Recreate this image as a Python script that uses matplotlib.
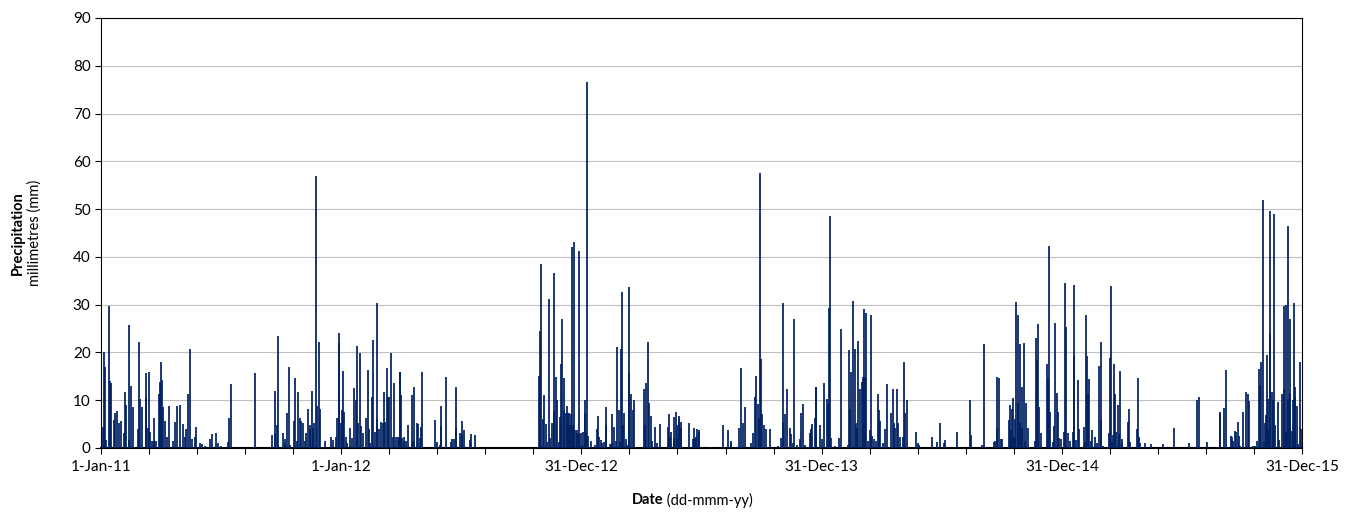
import numpy as np
import pandas as pd
import matplotlib
matplotlib.use("Agg")
import matplotlib.pyplot as plt
from matplotlib.ticker import MultipleLocator

# daily rainfall, (days since 1-Jan-2011, mm) -- days with no entry are dry
rain_2011 = [(3, 4.3), (5, 20.0), (6, 17.0), (8, 1.7), (12, 29.7), (14, 14.0), (15, 13.7), (20, 5.9),
             (22, 7.3), (25, 7.7), (28, 5.3), (30, 5.7), (35, 3.2), (36, 11.8), (38, 9.0), (42, 1.7),
             (43, 25.7), (45, 13.0), (48, 8.5), (56, 3.9), (58, 22.2), (60, 10.2), (63, 8.5), (68, 10.4),
             (69, 15.6), (71, 4.1), (73, 16.0), (74, 3.4), (77, 1.5), (80, 6.2), (81, 1.5), (84, 1.5),
             (88, 11.4), (90, 13.9), (91, 17.9), (92, 14.2), (95, 8.5), (98, 5.7), (101, 2.4), (103, 8.7),
             (109, 1.5), (113, 5.5), (115, 8.8), (120, 9.0), (124, 5.0), (127, 2.2), (129, 4.0), (132, 11.2),
             (135, 20.7), (138, 1.8), (143, 2.4), (145, 4.3), (150, 1.0), (153, 0.8), (158, 0.4), (166, 1.8),
             (169, 2.9), (175, 3.2), (178, 1.1), (183, 0.4), (193, 1.2), (195, 6.2), (197, 13.3), (234, 15.6),
             (260, 2.7), (264, 2.9), (265, 12.0), (268, 4.8), (269, 23.4), (276, 3.2), (279, 1.8), (280, 1.0),
             (283, 7.3), (285, 17.0), (287, 0.6), (294, 5.7), (295, 14.6), (298, 1.5), (300, 11.8), (302, 6.2),
             (304, 5.7), (307, 5.3), (310, 1.5), (312, 3.1), (315, 8.2), (317, 4.8), (318, 3.9), (320, 12.0),
             (322, 4.1), (324, 5.3), (327, 57.0), (328, 8.8), (331, 22.2), (333, 8.1), (341, 1.5), (349, 2.4),
             (352, 1.7), (357, 2.2), (359, 6.2), (361, 24.0), (362, 21.9), (364, 5.3)]

rain_2012 = [(366, 8.0), (368, 16.1), (370, 7.6), (372, 2.4), (374, 1.1), (379, 4.1), (381, 2.0), (385, 12.5),
             (387, 10.0), (389, 21.4), (391, 5.2), (394, 19.8), (395, 4.5), (398, 3.2), (403, 6.2), (405, 16.3),
             (407, 3.9), (409, 1.1), (412, 10.7), (414, 22.5), (416, 3.4), (419, 6.0), (420, 30.3), (422, 3.9),
             (425, 5.5), (428, 5.3), (430, 11.8), (432, 5.5), (434, 16.7), (436, 10.7), (438, 10.7), (440, 19.8),
             (443, 2.4), (445, 13.5), (449, 2.4), (451, 2.4), (453, 2.4), (454, 15.8), (455, 16.0), (456, 11.1),
             (458, 2.0), (460, 1.5), (461, 2.2), (463, 1.5), (467, 4.8), (472, 11.1), (473, 1.5), (475, 12.8),
             (476, 1.5), (480, 5.2), (481, 5.0), (484, 2.0), (486, 4.3), (488, 15.8), (507, 5.9), (510, 1.2),
             (515, 0.6), (516, 8.8), (517, 4.5), (524, 14.8), (532, 1.2), (534, 1.9), (536, 1.9), (539, 12.8),
             (540, 4.1), (545, 3.1), (548, 2.9), (549, 5.7), (551, 3.8), (560, 1.7), (562, 2.9), (568, 2.7),
             (666, 15.1), (667, 24.4), (669, 38.5), (671, 6.0), (673, 11.1), (676, 5.0), (678, 1.3), (681, 31.1),
             (683, 2.0), (686, 5.3), (688, 7.7), (689, 36.7), (691, 14.8), (693, 10.0), (696, 1.3), (698, 6.4),
             (699, 17.6), (701, 26.9), (703, 14.6), (704, 8.0), (706, 7.4), (708, 8.8), (709, 7.3), (711, 7.4),
             (713, 4.8), (714, 7.1), (716, 42.1), (717, 4.8), (719, 43.2), (720, 3.8), (723, 3.1), (724, 3.8),
             (726, 41.2), (727, 2.9), (729, 3.1)]

rain_2013 = [(731, 0.6), (733, 3.4), (735, 7.4), (736, 10.0), (737, 3.2), (739, 76.5), (740, 2.5), (745, 1.5),
             (751, 0.6), (754, 3.9), (755, 6.7), (757, 2.4), (760, 1.7), (761, 1.1), (765, 1.2), (767, 8.5),
             (768, 4.8), (773, 0.8), (776, 7.1), (777, 1.0), (780, 4.3), (782, 1.5), (784, 21.2), (787, 8.0),
             (788, 1.3), (790, 20.8), (791, 32.7), (793, 4.8), (795, 7.4), (797, 1.8), (800, 0.6), (802, 33.6),
             (803, 15.6), (805, 11.3), (808, 8.0), (810, 10.0), (812, 0.3), (825, 12.3), (826, 4.8), (828, 13.5),
             (831, 22.2), (833, 9.5), (836, 6.7), (838, 1.5), (842, 4.3), (845, 1.0), (849, 5.0), (862, 4.3),
             (863, 7.1), (865, 2.4), (866, 3.4), (870, 2.0), (871, 6.4), (873, 7.6), (875, 1.8), (876, 4.8),
             (878, 6.7), (879, 6.0), (881, 5.5), (882, 4.1), (893, 5.3), (899, 1.8), (901, 4.1), (902, 1.8),
             (904, 2.2), (906, 3.9), (908, 3.4), (909, 3.8), (925, 0.3), (945, 4.8), (953, 3.8), (957, 1.5),
             (958, 1.0), (965, 0.3), (969, 4.1), (972, 16.7), (976, 5.2), (978, 8.5), (988, 1.1), (990, 3.1),
             (994, 10.7), (996, 15.1), (998, 9.2), (1000, 6.2), (1002, 57.5), (1003, 18.6), (1005, 7.1),
             (1007, 4.8), (1011, 3.9), (1016, 3.9), (1029, 0.4), (1034, 2.0), (1036, 5.3), (1037, 30.3),
             (1040, 7.1), (1042, 12.3), (1047, 4.1), (1049, 2.9), (1051, 1.0), (1053, 26.9), (1058, 0.6),
             (1062, 1.8), (1064, 7.4), (1066, 9.2), (1070, 0.6), (1074, 0.3), (1077, 3.2), (1079, 3.9),
             (1080, 5.0), (1085, 6.2), (1086, 12.7), (1087, 12.7), (1092, 4.8)]

rain_2014 = [(1096, 1.8), (1098, 13.5), (1103, 10.2), (1105, 9.2), (1106, 29.2), (1107, 48.5), (1109, 2.0),
             (1115, 0.4), (1122, 2.0), (1124, 24.8), (1135, 0.6), (1136, 20.5), (1138, 8.1), (1140, 16.0),
             (1143, 30.8), (1145, 20.7), (1147, 5.2), (1149, 4.1), (1151, 22.4), (1153, 12.3), (1156, 13.9),
             (1158, 14.9), (1160, 29.0), (1161, 14.9), (1163, 28.3), (1166, 1.5), (1168, 3.8), (1170, 27.8),
             (1172, 2.5), (1175, 1.8), (1177, 1.5), (1180, 11.3), (1182, 8.0), (1184, 5.7), (1189, 1.1),
             (1191, 3.9), (1194, 13.4), (1201, 7.3), (1203, 12.4), (1205, 5.2), (1207, 4.1), (1209, 12.4),
             (1211, 5.3), (1214, 2.2), (1218, 2.4), (1220, 17.9), (1221, 7.4), (1224, 10.0), (1235, 0.3),
             (1239, 3.3), (1241, 1.1), (1243, 0.6), (1263, 2.4), (1270, 1.3), (1275, 5.2), (1281, 1.0),
             (1283, 1.7), (1301, 3.4), (1320, 10.0), (1322, 2.7), (1339, 0.6), (1341, 21.8), (1357, 1.2),
             (1359, 1.5), (1361, 14.8), (1362, 4.1), (1364, 14.6), (1367, 1.8), (1369, 1.8), (1380, 5.9),
             (1381, 9.0), (1383, 3.8), (1384, 8.1), (1386, 10.4), (1388, 2.2), (1389, 6.0), (1391, 30.6),
             (1393, 27.8), (1394, 9.5), (1396, 5.2), (1397, 21.7), (1399, 12.7), (1400, 4.1), (1402, 21.9),
             (1404, 1.5), (1405, 9.5), (1409, 4.1), (1419, 1.5), (1421, 23.0), (1423, 18.4), (1424, 25.9),
             (1426, 8.5), (1428, 3.2), (1437, 17.6), (1439, 14.6), (1440, 42.3), (1442, 7.5), (1446, 1.3),
             (1448, 4.5), (1450, 26.2), (1452, 11.6), (1454, 7.6), (1456, 2.0), (1458, 1.8)]

rain_2015 = [(1463, 3.4), (1465, 34.6), (1466, 25.3), (1470, 3.1), (1472, 1.5), (1477, 3.4), (1478, 19.3),
             (1479, 34.1), (1482, 1.7), (1484, 14.2), (1486, 3.9), (1494, 4.3), (1495, 1.3), (1497, 27.8),
             (1498, 19.3), (1500, 11.4), (1502, 14.4), (1504, 1.5), (1506, 3.8), (1511, 2.4), (1513, 1.0),
             (1517, 17.2), (1519, 22.1), (1520, 5.9), (1523, 0.4), (1531, 3.1), (1533, 18.9), (1534, 33.9),
             (1536, 1.3), (1537, 2.7), (1539, 17.6), (1541, 11.4), (1543, 3.3), (1545, 9.0), (1547, 2.9),
             (1549, 16.1), (1551, 1.0), (1552, 1.9), (1560, 5.4), (1562, 8.2), (1563, 1.2), (1574, 3.9),
             (1575, 14.7), (1577, 2.2), (1579, 1.0), (1586, 1.1), (1595, 0.8), (1613, 0.8), (1630, 4.1),
             (1653, 1.1), (1665, 10.0), (1668, 10.7), (1680, 1.3), (1700, 7.1), (1701, 7.6), (1706, 8.4),
             (1709, 16.3), (1717, 2.5), (1719, 2.4), (1720, 1.5), (1723, 3.6), (1725, 3.4), (1727, 5.5),
             (1729, 2.6), (1731, 0.4), (1736, 7.6), (1740, 11.7), (1743, 11.3), (1745, 9.8), (1751, 0.4),
             (1754, 0.4), (1757, 1.5), (1759, 16.5), (1761, 13.1), (1763, 17.9), (1765, 52.0), (1767, 1.2),
             (1769, 5.2), (1770, 6.9), (1771, 19.4), (1773, 3.8), (1774, 10.2), (1776, 49.5), (1777, 23.8),
             (1779, 11.8), (1781, 10.0), (1782, 49.0), (1784, 4.8), (1788, 9.7), (1790, 1.7), (1795, 11.4),
             (1797, 12.4), (1798, 29.7), (1800, 3.4), (1801, 29.9), (1803, 46.5), (1804, 10.3), (1806, 26.9),
             (1807, 11.6), (1809, 3.5), (1811, 10.0), (1812, 30.4), (1814, 10.6), (1815, 12.8), (1817, 8.7),
             (1819, 0.8), (1822, 18.1), (1823, 3.9)]

start_date = pd.Timestamp("2011-01-01")
tick_days = [0, 365, 730, 1095, 1460, 1825]

plt.rcParams["font.family"] = ["Lato", "DejaVu Sans"]

all_rain = rain_2011 + rain_2012 + rain_2013 + rain_2014 + rain_2015
days = np.array([d for d, _ in all_rain])
mm = np.array([v for _, v in all_rain])

fig = plt.figure(figsize=(13.59, 5.17), dpi=100)
ax = fig.add_axes([0.0743, 0.1335, 0.8838, 0.8317])

ax.vlines(days, 0, mm, color="#002060", linewidth=1.25, zorder=3)

ax.set_xlim(0, 1825)
ax.set_ylim(0, 90)
ax.yaxis.set_major_locator(MultipleLocator(10))
ax.grid(axis="y", color="#bfbfbf", linewidth=0.8, zorder=0)

ax.set_xticks(tick_days)
ax.set_xticklabels([(start_date + pd.Timedelta(days=d)).strftime("%-d-%b-%y") for d in tick_days])
ax.xaxis.set_minor_locator(MultipleLocator(73))
ax.tick_params(axis="both", which="both", direction="out", length=4, width=0.8, labelsize=11)
ax.tick_params(axis="x", pad=5)

for side in ["top", "right", "left"]:
    ax.spines[side].set_linewidth(0.8)
ax.spines["bottom"].set_linewidth(1.5)

ax.text(-0.069, 0.5, "Precipitation", transform=ax.transAxes, rotation=90,
        ha="center", va="center", fontsize=10.5, fontweight="bold")
ax.text(-0.0555, 0.5, "millimetres (mm)", transform=ax.transAxes, rotation=90,
        ha="center", va="center", fontsize=10.5)
ax.text(0.468, -0.121, "Date", transform=ax.transAxes, ha="right", va="center",
        fontsize=10.5, fontweight="bold")
ax.text(0.468, -0.121, " (dd-mmm-yy)", transform=ax.transAxes, ha="left", va="center",
        fontsize=10.5)

fig.savefig("out.png", dpi=100)
